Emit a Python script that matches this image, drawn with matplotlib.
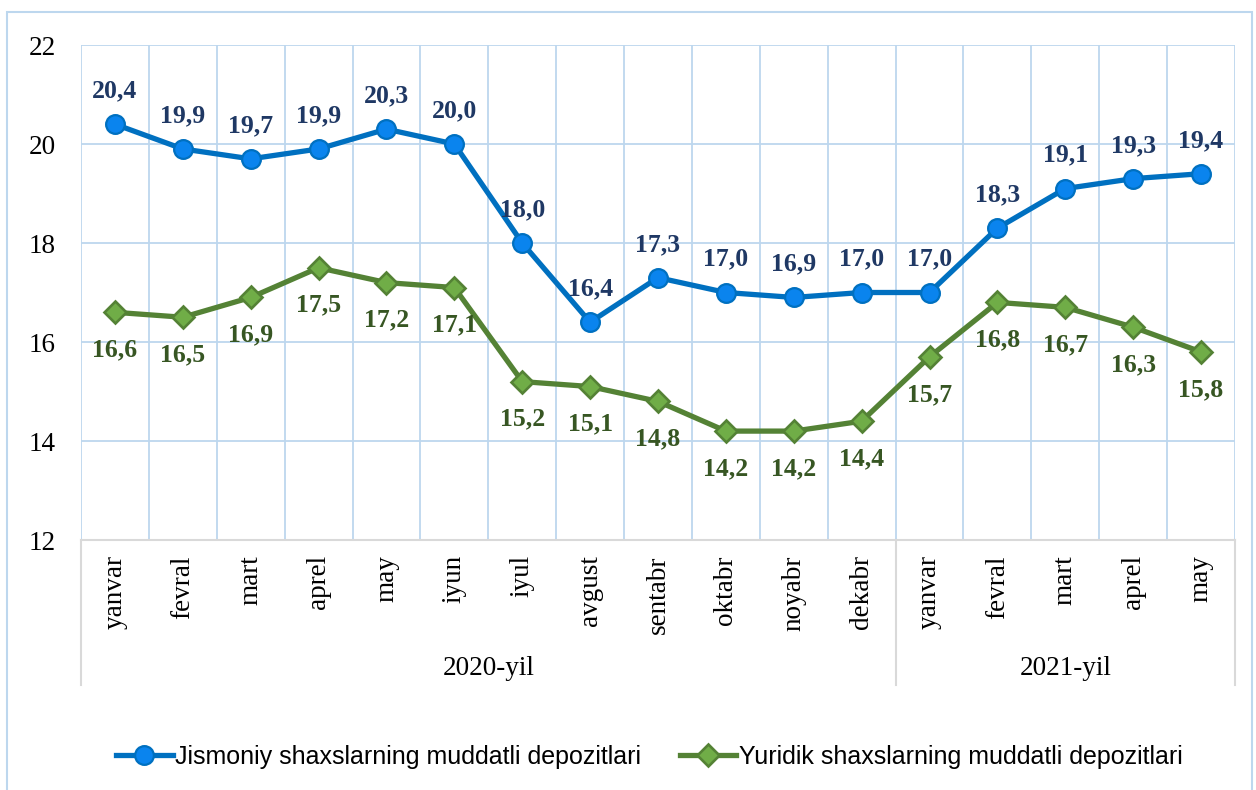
import numpy as np
import matplotlib.pyplot as plt
from matplotlib.lines import Line2D
from matplotlib.patches import Rectangle

# data
months = ['yanvar', 'fevral', 'mart', 'aprel', 'may', 'iyun', 'iyul', 'avgust',
          'sentabr', 'oktabr', 'noyabr', 'dekabr',
          'yanvar', 'fevral', 'mart', 'aprel', 'may']
years = ['2020-yil', '2021-yil']
year_counts = [12, 5]
jismoniy = [20.4, 19.9, 19.7, 19.9, 20.3, 20.0, 18.0, 16.4, 17.3, 17.0, 16.9,
            17.0, 17.0, 18.3, 19.1, 19.3, 19.4]
yuridik = [16.6, 16.5, 16.9, 17.5, 17.2, 17.1, 15.2, 15.1, 14.8, 14.2, 14.2,
           14.4, 15.7, 16.8, 16.7, 16.3, 15.8]
series_names = ['Jismoniy shaxslarning muddatli depozitlari',
                'Yuridik shaxslarning muddatli depozitlari']

SERIF = ['Liberation Serif', 'DejaVu Serif']
SANS = ['Liberation Sans', 'DejaVu Sans']
GRID = '#BDD7EE'
AXIS = '#D9D9D9'

BLUE_LINE, BLUE_FILL, BLUE_TXT = '#0070C0', '#0A84EE', '#1F3864'
GREEN_LINE, GREEN_FILL, GREEN_TXT = '#548235', '#70AD47', '#375623'

plt.rcParams['font.family'] = SERIF

fig = plt.figure(figsize=(12.56, 7.90), dpi=100)
ax = fig.add_axes([81 / 1256, 1 - 540 / 790, (1235 - 81) / 1256, 495 / 790])

# outer chart border
fig.patches.append(Rectangle((7 / 1256, -0.02), 1245 / 1256, 1 - 12 / 790 + 0.02,
                             transform=fig.transFigure, fill=False,
                             edgecolor=GRID, linewidth=1.5))

x = np.arange(len(months))

ax.plot(x, jismoniy, color=BLUE_LINE, lw=3.8, marker='o', ms=13.5,
        mfc=BLUE_FILL, mec=BLUE_LINE, mew=1.6, zorder=3)
ax.plot(x, yuridik, color=GREEN_LINE, lw=3.8, marker='D', ms=11.5,
        mfc=GREEN_FILL, mec=GREEN_LINE, mew=1.9, zorder=3)

for xi, v in zip(x, jismoniy):
    ax.annotate(f'{v:.1f}'.replace('.', ','), (xi, v), xytext=(0, 24),
                textcoords='offset points', ha='center', va='center',
                fontsize=18.5, fontweight='bold', color=BLUE_TXT)
for xi, v in zip(x, yuridik):
    ax.annotate(f'{v:.1f}'.replace('.', ','), (xi, v), xytext=(0, -27),
                textcoords='offset points', ha='center', va='center',
                fontsize=18.5, fontweight='bold', color=GREEN_TXT)

ax.set_xlim(-0.5, len(months) - 0.5)
ax.set_ylim(12, 22)
ax.set_yticks(np.arange(12, 23, 2))
ax.tick_params(axis='y', length=0, pad=18, labelsize=19.5)
ax.set_xticks(x)
ax.set_xticklabels(months, rotation=90, fontsize=19.5)
ax.tick_params(axis='x', length=0, pad=11)

# gridlines at category boundaries
for b in np.arange(-0.5, len(months), 1.0):
    ax.axvline(b, color=GRID, lw=1.3, zorder=1)
for yv in np.arange(14, 23, 2):
    ax.axhline(yv, color=GRID, lw=1.3, zorder=1)

for s in ['top', 'right', 'left']:
    ax.spines[s].set_visible(False)
ax.spines['bottom'].set_color(AXIS)
ax.spines['bottom'].set_linewidth(1.5)

# multi-level category axis
bounds = np.concatenate([[0], np.cumsum(year_counts)]) - 0.5
trans = ax.get_xaxis_transform()
for b in bounds:
    ax.plot([b, b], [0, -0.293], transform=trans, color=AXIS, lw=1.5,
            clip_on=False)
for name, lo, hi in zip(years, bounds[:-1], bounds[1:]):
    ax.text((lo + hi) / 2, -0.259, name, transform=trans, ha='center',
            va='center', fontsize=19.5)

handles = [
    Line2D([], [], color=BLUE_LINE, lw=3.8, marker='o', ms=13.5,
           mfc=BLUE_FILL, mec=BLUE_LINE, mew=1.6),
    Line2D([], [], color=GREEN_LINE, lw=3.8, marker='D', ms=11.5,
           mfc=GREEN_FILL, mec=GREEN_LINE, mew=1.9),
]
fig.legend(handles, series_names, loc='center', bbox_to_anchor=(0.517, 1 - 757 / 790),
           ncol=2, frameon=False, handlelength=2.25, handletextpad=0.1,
           columnspacing=1.55, prop={'family': SANS, 'size': 18})

fig.savefig('out.png', dpi=100)
